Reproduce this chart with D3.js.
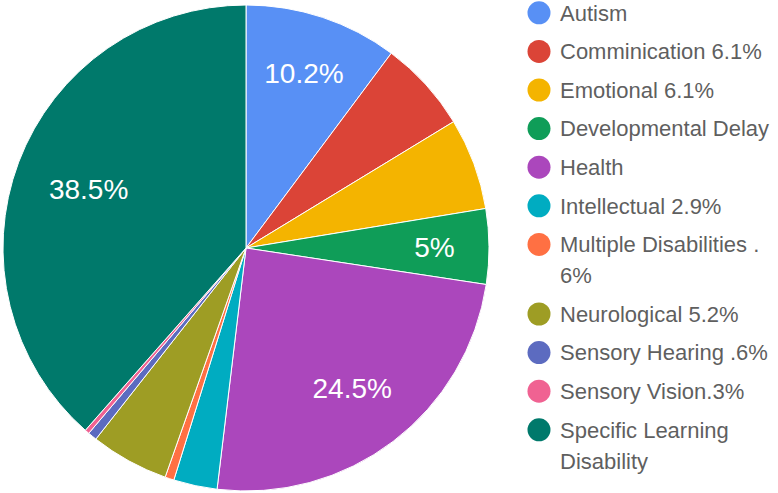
<!DOCTYPE html>
<html><head><meta charset="utf-8">
<script src="https://cdn.jsdelivr.net/npm/d3@7"></script>
<style>body{margin:0;background:#fff}svg{display:block}</style>
</head><body>
<svg id="chart" width="778" height="493"></svg>
<script>
const categories = ["Autism","Comminication 6.1%","Emotional 6.1%","Developmental Delay","Health","Intellectual 2.9%","Multiple Disabilities .6%","Neurological 5.2%","Sensory Hearing .6%","Sensory Vision.3%","Specific Learning Disability"];
const values = [10.2,6.1,6.1,5,24.5,2.9,0.6,5.2,0.6,0.3,38.5];
const colors = ["#5890f5","#db4437","#f4b400","#0f9d58","#ab47bc","#00acc1","#ff7043","#9e9d24","#5c6bc0","#f06292","#00796b"];

const svg = d3.select("#chart");
const cx = 246, cy = 248, R = 243;
const FONT = "'Liberation Sans', Arial, sans-serif";
const data = categories.map((c,i)=>({label:c, value:values[i], color:colors[i]}));
const total = d3.sum(values);
const pie = d3.pie().sort(null).value(d=>d.value);
const arcs = pie(data);
const arc = d3.arc().innerRadius(0).outerRadius(R);
const g = svg.append("g").attr("transform",`translate(${cx},${cy})`);
g.selectAll("path").data(arcs).join("path")
  .attr("d",arc).attr("fill",d=>d.data.color)
  .attr("stroke","#fff").attr("stroke-width",1);

// slice labels
const fs = 28, capH = 0.716*fs, R0 = R-34, margin = 12;
arcs.forEach(a=>{
  const pct = +(a.data.value/total*100).toFixed(1);
  const t = g.append("text").text(pct+"%")
    .attr("font-family",FONT).attr("font-size",fs).attr("fill","#fff")
    .attr("text-anchor","middle");
  const w = t.node().getComputedTextLength(), h = capH;
  const mid = (a.startAngle+a.endAngle)/2;
  const ux = Math.sin(mid), uy = -Math.cos(mid);
  const A = Math.abs(ux)*w + Math.abs(uy)*h;
  const C = (w*w+h*h)/4 - R0*R0;
  const d = (-A + Math.sqrt(A*A-4*C))/2;
  const px = d*ux, py = d*uy;
  let ok = true;
  [[-1,-1],[1,-1],[-1,1],[1,1]].forEach(([sx,sy])=>{
    const x = px+sx*w/2, y = py+sy*h/2;
    let ang = Math.atan2(x,-y); if (ang<0) ang += 2*Math.PI;
    if (ang < a.startAngle || ang > a.endAngle) ok = false;
    [a.startAngle,a.endAngle].forEach(e=>{
      const dist = Math.abs(x*(-Math.cos(e)) - y*Math.sin(e));
      if (dist < margin) ok = false;
    });
  });
  if (!ok) { t.remove(); return; }
  t.attr("x",px).attr("y",py+h/2);
});

// legend
const lg = svg.append("g");
const lx = 539, tx = 560, lfs = 22, maxW = 214, rowGap = 38.6, lineH = 31;
let y = 12.8;
const measure = lg.append("text").attr("font-family",FONT).attr("font-size",lfs).attr("visibility","hidden");
function width(s){ measure.text(s); return measure.node().getComputedTextLength(); }
data.forEach(d=>{
  const tokens = d.label.match(/[^ .]*[ .]?/g).filter(s=>s.length);
  const lines = []; let line = "";
  tokens.forEach(tk=>{
    const test = line+tk;
    if (line && width(test.trimEnd()) > maxW) { lines.push(line.trimEnd()); line = tk; }
    else line = test;
  });
  if (line) lines.push(line.trimEnd());
  lg.append("circle").attr("cx",lx).attr("cy",y).attr("r",11.5).attr("fill",d.color);
  lines.forEach((ln,i)=>{
    lg.append("text").text(ln).attr("x",tx).attr("y",y+i*lineH+0.716*lfs/2)
      .attr("font-family",FONT).attr("font-size",lfs).attr("fill","#5f5f5f");
  });
  y += rowGap + (lines.length-1)*lineH;
});
measure.remove();
</script>
</body></html>
